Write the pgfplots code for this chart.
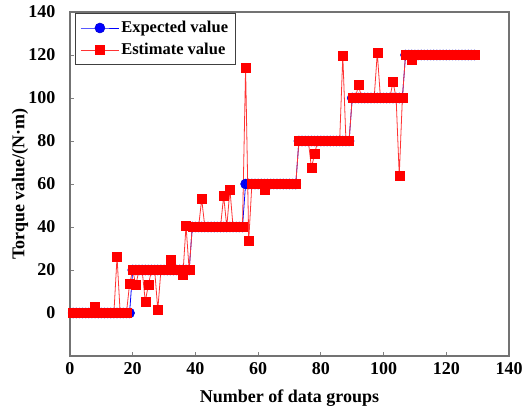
\documentclass[border=0pt]{standalone}
\usepackage{fontspec}
\setmainfont{Liberation Serif}
\usepackage{pgfplots}
\pgfplotsset{compat=1.18}
\begin{document}
\begin{tikzpicture}
\begin{axis}[
  scale only axis,
  width=439bp, height=344bp,
  xmin=0, xmax=140, ymin=-20, ymax=140,
  xtick={0,20,...,140}, ytick={0,20,...,140},
  tick pos=left, tick align=inside,
  major tick length=4bp,
  every tick/.style={gray, line width=0.8bp},
  axis line style={gray!90!black, line width=1.2bp},
  /pgf/number format/assume math mode=true,
  ticklabel style={font=\fontsize{18bp}{21bp}\selectfont\bfseries},
  yticklabel style={xshift=-11bp},
  xticklabel style={yshift=-3bp},
  xlabel={Number of data groups},
  ylabel={Torque value/(N·m)},
  label style={font=\fontsize{18bp}{21bp}\selectfont\bfseries},
  xlabel style={at={(axis description cs:0.5,0)}, anchor=center, yshift=-42bp},
  ylabel style={at={(axis description cs:-0.1139,0.5)}, anchor=center},
  legend style={at={(axis description cs:0.0114,0.997)}, anchor=north west,
    draw=darkgray, line width=1bp, fill=white,
    font=\fontsize{16.5bp}{19bp}\selectfont\bfseries,
    inner xsep=5bp, inner ysep=6bp, row sep=5bp},
  legend cell align=left,
  legend image code/.code={\draw[#1,mark repeat=2,mark phase=2] plot coordinates {(0bp,0bp) (19bp,0bp) (38bp,0bp)};},
]
\addplot[blue, line width=0.8bp, mark=*, mark size=5bp, mark options={fill=blue, draw=blue!80!black, line width=0.5bp}] coordinates {
(1,0) (2,0) (3,0) (4,0) (5,0) (6,0) (7,0) (8,0) (9,0) (10,0)
(11,0) (12,0) (13,0) (14,0) (15,0) (16,0) (17,0) (18,0) (19,0)
(20,20) (21,20) (22,20) (23,20) (24,20) (25,20) (26,20) (27,20) (28,20) (29,20)
(30,20) (31,20) (32,20) (33,20) (34,20) (35,20) (36,20) (37,20) (38,20)
(39,40) (40,40) (41,40) (42,40) (43,40) (44,40) (45,40) (46,40) (47,40) (48,40)
(49,40) (50,40) (51,40) (52,40) (53,40) (54,40) (55,40)
(56,60) (57,60) (58,60) (59,60) (60,60) (61,60) (62,60) (63,60) (64,60) (65,60)
(66,60) (67,60) (68,60) (69,60) (70,60) (71,60) (72,60)
(73,80) (74,80) (75,80) (76,80) (77,80) (78,80) (79,80) (80,80) (81,80) (82,80)
(83,80) (84,80) (85,80) (86,80) (87,80) (88,80) (89,80)
(90,100) (91,100) (92,100) (93,100) (94,100) (95,100) (96,100) (97,100) (98,100) (99,100)
(100,100) (101,100) (102,100) (103,100) (104,100) (105,100) (106,100)
(107,120) (108,120) (109,120) (110,120) (111,120) (112,120) (113,120) (114,120) (115,120) (116,120)
(117,120) (118,120) (119,120) (120,120) (121,120) (122,120) (123,120) (124,120) (125,120) (126,120)
(127,120) (128,120) (129,120)
};
\addlegendentry{Expected value}
\addplot[red!80!white, line width=0.8bp, mark=square*, mark size=4.5bp, mark options={fill=red, draw=red, line width=0.3bp}] coordinates {
(1,0) (2,0) (3,0) (4,0) (5,0) (6,0) (7,0) (8,3) (9,0) (10,0)
(11,0) (12,0) (13,0) (14,0) (15,26) (16,0) (17,0) (18,0) (19,13.5)
(20,20) (21,13) (22,20) (23,20) (24,5.5) (25,13) (26,20) (27,20) (28,1.5) (29,20)
(30,20) (31,20) (32,25) (33,20) (34,20) (35,20) (36,17.7) (37,40.6) (38,20)
(39,40) (40,40) (41,40) (42,53) (43,40) (44,40) (45,40) (46,40) (47,40) (48,40)
(49,54.5) (50,40) (51,57.5) (52,40) (53,40) (54,40) (55,40)
(56,114) (57,33.6) (58,60) (59,60) (60,60) (61,60) (62,57.5) (63,60) (64,60) (65,60)
(66,60) (67,60) (68,60) (69,60) (70,60) (71,60) (72,60)
(73,80) (74,80) (75,80) (76,80) (77,67.5) (78,74) (79,80) (80,80) (81,80) (82,80)
(83,80) (84,80) (85,80) (86,80) (87,119.7) (88,80) (89,80)
(90,100) (91,100) (92,106) (93,100) (94,100) (95,100) (96,100) (97,100) (98,121) (99,100)
(100,100) (101,100) (102,100) (103,107.6) (104,100) (105,64) (106,100)
(107,120) (108,120) (109,118) (110,120) (111,120) (112,120) (113,120) (114,120) (115,120) (116,120)
(117,120) (118,120) (119,120) (120,120) (121,120) (122,120) (123,120) (124,120) (125,120) (126,120)
(127,120) (128,120) (129,120)
};
\addlegendentry{Estimate value}
\end{axis}
\path (current axis.south west) ++(-70bp,-59bp);
\path (current axis.north east) ++(20bp,12bp);
\end{tikzpicture}
\end{document}
